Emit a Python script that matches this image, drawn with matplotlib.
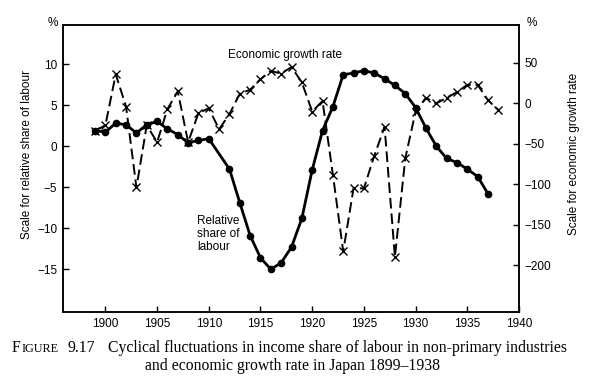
import matplotlib.pyplot as plt
import numpy as np

plt.rcParams['font.family'] = ['Liberation Sans', 'DejaVu Sans']

# relative share of labour (left scale, %) - no point drawn for 1911
labour_years = [1899, 1900, 1901, 1902, 1903, 1904, 1905, 1906, 1907, 1908, 1909, 1910,
                1912, 1913, 1914, 1915, 1916, 1917, 1918, 1919, 1920, 1921, 1922, 1923,
                1924, 1925, 1926, 1927, 1928, 1929, 1930, 1931, 1932, 1933, 1934, 1935,
                1936, 1937]
labour_share = [1.9, 1.7, 2.8, 2.6, 1.6, 2.6, 3.0, 2.1, 1.4, 0.4, 0.7, 0.9,
                -2.8, -6.9, -10.9, -13.6, -15.0, -14.2, -12.3, -8.8, -2.9, 1.9, 4.8, 8.7,
                8.9, 9.2, 8.9, 8.2, 7.4, 6.4, 4.7, 2.2, 0.0, -1.5, -2.0, -2.8,
                -3.7, -5.8]

# economic growth rate (right scale, %)
growth_years = list(range(1899, 1939))
growth_rate = [-34, -27, 36, -4, -104, -27, -48, -7, 15, -48,
               -12, -6, -32, -13, 12, 17, 30, 40, 37, 45,
               26, -10, 3, -88, -183, -105, -105, -65, -29, -190,
               -68, -10, 7, 0, 7, 14, 23, 23, 4, -8]

x_ticks = [1900, 1905, 1910, 1915, 1920, 1925, 1930, 1935, 1940]
left_ticks = [10, 5, 0, -5, -10, -15]
right_ticks = [50, 0, -50, -100, -150, -200]


def style_axis(ax):
    for s in ax.spines.values():
        s.set_linewidth(1.1)
    ax.tick_params(direction='in', length=4, width=1.0, labelsize=8.5, pad=4)


fig = plt.figure(figsize=(5.93, 3.87), dpi=100)
ax = fig.add_axes([63 / 593, 1 - 312 / 387, 456 / 593, 287 / 387])
ax2 = ax.twinx()

ax.plot(labour_years, labour_share, 'k-', linewidth=2.0, marker='o', markersize=4.5, zorder=3)
ax2.plot(growth_years, growth_rate, color='k', linestyle=(0, (5.5, 2.5)), linewidth=1.4,
         marker='x', markersize=5.5, markeredgewidth=1.0)

ax.set_xlim(1895.9, 1940)
ax.set_ylim(-20.2, 14.75)
ax2.set_ylim(-258, 97)

ax.set_xticks(x_ticks)
ax.set_yticks(left_ticks)
ax.set_yticklabels([str(v).replace('-', '\u2212') for v in left_ticks])
ax2.set_yticks(right_ticks)
ax2.set_yticklabels([str(v).replace('-', '\u2212') for v in right_ticks])
style_axis(ax)
style_axis(ax2)

ax.set_ylabel('Scale for relative share of labour', fontsize=8.5, labelpad=3)
ax2.set_ylabel('Scale for economic growth rate', fontsize=8.5, labelpad=12)
ax.yaxis.label.set_y(0.55)
ax2.yaxis.label.set_y(0.55)

ax.text(1917.4, 11.1, 'Economic growth rate', fontsize=8.5, ha='center', va='center')
ax.text(1908.9, -8.4, 'Relative\nshare of\nlabour', fontsize=8.5, ha='left', va='top',
        linespacing=1.1)

fig.text(53 / 593, 1 - 23 / 387, '%', fontsize=8.5, ha='center', va='center')
fig.text(532 / 593, 1 - 23 / 387, '%', fontsize=8.5, ha='center', va='center')

# caption
serif = ['Liberation Serif', 'DejaVu Serif']
cap_y1 = 1 - 352 / 387
t_f = fig.text(12 / 593, cap_y1, 'F', fontsize=11.3, family=serif, ha='left', va='baseline')
t_rest = fig.text(0, 0, 'IGURE', fontsize=8.8, family=serif, ha='left', va='baseline')
fig.canvas.draw()
r = fig.canvas.get_renderer()
bb = t_f.get_window_extent(r)
t_rest.set_position(((bb.x1 + 0.5) / fig.bbox.width, cap_y1))
fig.text(68 / 593, cap_y1, '9.17', fontsize=11.3, family=serif, ha='left', va='baseline')
fig.text(108 / 593, cap_y1,
         'Cyclical fluctuations in income share of labour in non-primary industries',
         fontsize=11.3, family=serif, ha='left', va='baseline')
fig.text(145 / 593, 1 - 370 / 387, 'and economic growth rate in Japan 1899\u20131938',
         fontsize=11.3, family=serif, ha='left', va='baseline')

fig.savefig('out.png', dpi=100)
